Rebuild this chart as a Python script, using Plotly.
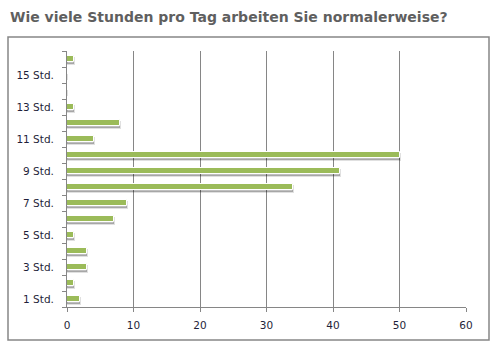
import plotly.graph_objects as go

hours = list(range(1, 17))
counts = [2, 1, 3, 3, 1, 7, 9, 34, 41, 50, 4, 8, 1, 0, 0, 1]
label_vals = [1, 3, 5, 7, 9, 11, 13, 15]
label_text = ["1 Std.", "3 Std.", "5 Std.", "7 Std.", "9 Std.", "11 Std.", "13 Std.", "15 Std."]
x_ticks = [0, 10, 20, 30, 40, 50, 60]

W = 0.38
fig = go.Figure()
# shadow
fig.add_trace(go.Bar(
    x=counts, y=hours, orientation="h", width=W, offset=-W / 2 - 0.1,
    marker=dict(color="rgba(0,0,0,0.25)", line=dict(color="rgba(0,0,0,0.12)", width=2)),
    hoverinfo="skip", showlegend=False))
fig.add_trace(go.Bar(
    x=counts, y=hours, orientation="h", width=W, offset=-W / 2,
    marker=dict(color="#9BBB59", line=dict(color="white", width=1)),
    showlegend=False))

grey = "#868686"
fig.update_layout(
    width=500, height=361,
    margin=dict(l=67, r=34, t=51, b=54),
    paper_bgcolor="white", plot_bgcolor="white",
    barmode="overlay", bargap=0,
    title=dict(text="<b>Wie viele Stunden pro Tag arbeiten Sie normalerweise?</b>",
               x=0.02, xanchor="left", y=1 - 17 / 361, yanchor="middle",
               font=dict(family="DejaVu Sans", size=14, color="#5F5F5F")),
    xaxis=dict(range=[0, 60], tickvals=x_ticks, showgrid=True, gridcolor=grey, gridwidth=1,
               showline=True, linecolor=grey, linewidth=1, ticks="outside", ticklen=4,
               tickcolor=grey, zeroline=False, ticklabelstandoff=4,
               tickfont=dict(family="DejaVu Sans", size=10.5, color="#1F1F3A")),
    yaxis=dict(range=[0.5, 16.5], tickvals=label_vals, ticktext=label_text, ticks="",
               showgrid=False, zeroline=False, showline=True, linecolor=grey, linewidth=1,
               ticklabelstandoff=10,
               minor=dict(tickmode="linear", tick0=0.5, dtick=1, ticks="outside",
                          ticklen=4, tickcolor=grey, showgrid=False),
               tickfont=dict(family="DejaVu Sans", size=10.5, color="#1F1F3A")),
)
pw, ph = 399, 256
fig.add_shape(type="rect", xref="paper", yref="paper",
              x0=(8 - 67) / pw, x1=(489 - 67) / pw,
              y0=(307 - 340) / ph, y1=(307 - 37) / ph,
              line=dict(color=grey, width=1.5), fillcolor="rgba(0,0,0,0)", layer="below")
fig.write_html("out.html", config={"displayModeBar": False},
               post_script="document.body.style.margin='0';")
